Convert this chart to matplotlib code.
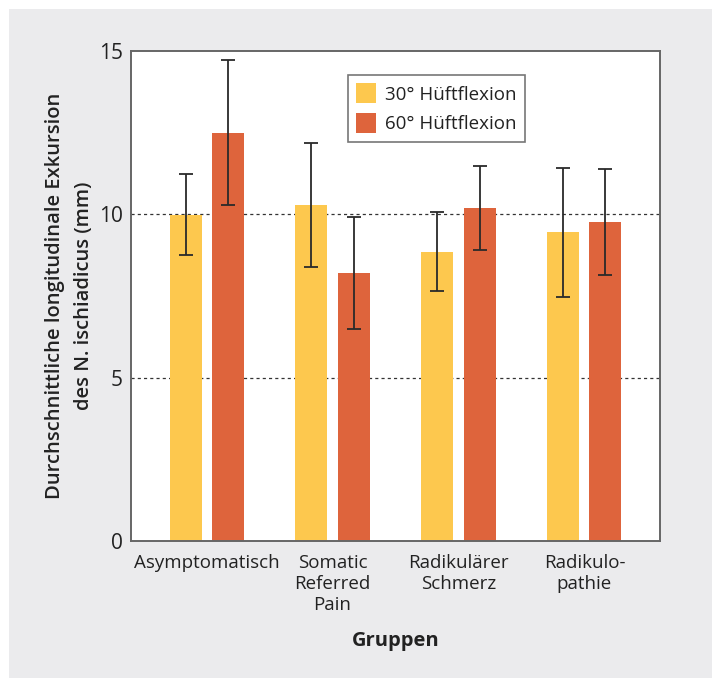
import matplotlib
matplotlib.use('Agg')
import matplotlib.pyplot as plt
import matplotlib.patches as mpatches
import numpy as np

plt.rcParams['font.family'] = ['Open Sans', 'DejaVu Sans']
plt.rcParams['font.size'] = 13

# Data
groups = ['Asymptomatisch', 'Somatic\nReferred\nPain', 'Radikulärer\nSchmerz', 'Radikulo-\npathie']
series_labels = ['30° Hüftflexion', '60° Hüftflexion']
flex30 = [9.98, 10.28, 8.85, 9.45]
flex30_err = [1.24, 1.89, 1.21, 1.98]
flex60 = [12.5, 8.2, 10.2, 9.76]
flex60_err = [2.21, 1.71, 1.29, 1.63]
yticks = [0, 5, 10, 15]

c30 = '#fdc84e'
c60 = '#de643c'
bg = '#ebebed'

fig = plt.figure(figsize=(7.12, 6.78), dpi=100)
fig.patch.set_facecolor('white')
# grey panel behind everything
fig.patches.append(mpatches.Rectangle((9 / 712, 0), 1, 1 - 9 / 678, transform=fig.transFigure,
                                      facecolor=bg, edgecolor='none', zorder=-10))

ax = fig.add_axes([131 / 712, 1 - 541 / 678, 529 / 712, 490 / 678])
ax.set_facecolor('white')

x = np.arange(len(groups))
off = 0.167
w = 0.254
err_kw = dict(ecolor='#2a2a2a', elinewidth=1.3, capsize=5, capthick=1.3)
ax.bar(x - off, flex30, w, color=c30, yerr=flex30_err, error_kw=err_kw, label=series_labels[0], zorder=2)
ax.bar(x + off, flex60, w, color=c60, yerr=flex60_err, error_kw=err_kw, label=series_labels[1], zorder=2)

ax.set_xlim(-0.6, 3.6)
ax.set_ylim(0, 15)
ax.set_yticks(yticks)
ax.set_xticks(x)
ax.set_xticklabels(groups, linespacing=1.25, color='#222222')
ax.tick_params(axis='both', length=0, labelsize=13.5, colors='#222222')
ax.tick_params(axis='y', pad=6, labelsize=15)
ax.tick_params(axis='x', pad=9)

for v in [5, 10]:
    ax.axhline(v, color='#333333', lw=0.9, ls=(0, (2.5, 2.5)), zorder=1)

for s in ax.spines.values():
    s.set_color('#666666')
    s.set_linewidth(1.4)

ax.set_xlabel('Gruppen', fontsize=14.5, fontweight='bold', color='#222222', labelpad=12)
ax.set_ylabel('Durchschnittliche longitudinale Exkursion\ndes N. ischiadicus (mm)', fontsize=14.5,
              fontweight='semibold', color='#222222', labelpad=3, linespacing=1.65)

leg = ax.legend(loc='upper left', bbox_to_anchor=(0.41, 0.951), fontsize=13.5, frameon=True,
                fancybox=False, handlelength=1.05, handleheight=1.25, handletextpad=0.5,
                borderpad=0.45, labelspacing=0.5, borderaxespad=0)
leg.get_frame().set_edgecolor('#555555')
leg.get_frame().set_linewidth(1.2)
for t in leg.get_texts():
    t.set_color('#222222')

fig.savefig('out.png', dpi=100, facecolor=fig.get_facecolor())
